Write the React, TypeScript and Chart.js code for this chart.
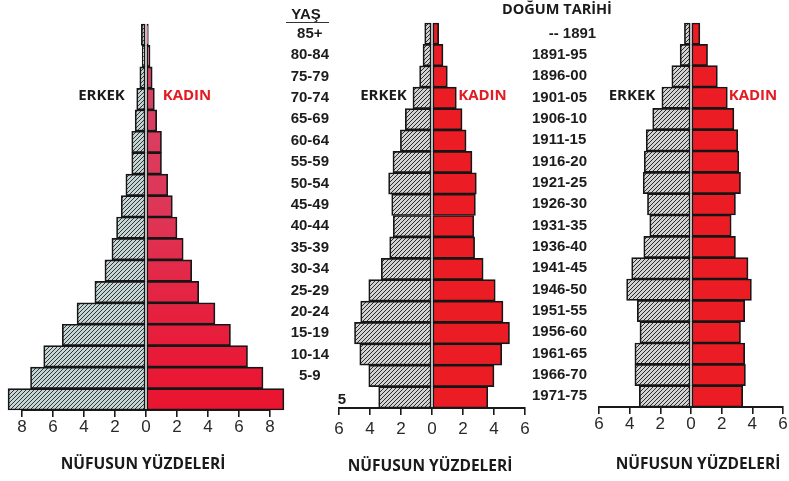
import React, { useEffect, useRef } from 'react';
import { Chart, registerables } from 'chart.js';

Chart.register(...registerables);

// ---------- DATA ----------
const ageGroups = ['85+', '80-84', '75-79', '70-74', '65-69', '60-64', '55-59', '50-54', '45-49', '40-44', '35-39', '30-34', '25-29', '20-24', '15-19', '10-14', '5-9', '0-4'];
const ageTickLabels = ['85+', '80-84', '75-79', '70-74', '65-69', '60-64', '55-59', '50-54', '45-49', '40-44', '35-39', '30-34', '25-29', '20-24', '15-19', '10-14', '5-9', ''];
const birthTickLabels = ['    -- 1891', '1891-95', '1896-00', '1901-05', '1906-10', '1911-15', '1916-20', '1921-25', '1926-30', '1931-35', '1936-40', '1941-45', '1946-50', '1951-55', '1956-60', '1961-65', '1966-70', '1971-75'];

// Pyramid 1 (percent of population)
const p1Male = [0.3, 0.25, 0.4, 0.6, 0.7, 0.92, 0.92, 1.3, 1.6, 1.9, 2.2, 2.65, 3.3, 4.45, 5.4, 6.6, 7.45, 8.9];
const p1Female = [0.15, 0.26, 0.4, 0.54, 0.69, 1.0, 1.0, 1.4, 1.7, 2.0, 2.4, 2.95, 3.4, 4.45, 5.45, 6.55, 7.55, 8.9];
// Pyramid 2
const p2Male = [0.47, 0.58, 0.8, 1.23, 1.72, 2.04, 2.52, 2.8, 2.6, 2.5, 2.73, 3.27, 4.08, 4.6, 5.0, 4.66, 4.08, 3.44];
const p2Female = [0.43, 0.71, 0.99, 1.57, 1.94, 2.2, 2.58, 2.86, 2.8, 2.7, 2.75, 3.3, 4.08, 4.58, 5.0, 4.5, 4.0, 3.6];
// Pyramid 3
const p3Male = [0.43, 0.71, 1.25, 1.9, 2.5, 2.92, 3.05, 3.12, 2.84, 2.69, 3.08, 3.87, 4.2, 3.5, 3.33, 3.66, 3.66, 3.37];
const p3Female = [0.58, 1.08, 1.72, 2.37, 2.8, 3.05, 3.12, 3.23, 2.9, 2.62, 2.9, 3.72, 3.94, 3.5, 3.23, 3.5, 3.55, 3.37];

const p1TickValues = [-8, -6, -4, -2, 0, 2, 4, 6, 8];
const p23TickValues = [-6, -4, -2, 0, 2, 4, 6];

const xTitle = 'NÜFUSUN YÜZDELERİ';

// ---------- HELPERS ----------
function makeHatch(bg: string, line: string) {
  const s = 4;
  const c = document.createElement('canvas');
  c.width = s;
  c.height = s;
  const g = c.getContext('2d')!;
  g.fillStyle = bg;
  g.fillRect(0, 0, s, s);
  g.strokeStyle = line;
  g.lineWidth = 1;
  g.beginPath();
  g.moveTo(-1, s + 1);
  g.lineTo(s + 1, -1);
  g.moveTo(-1, 1);
  g.lineTo(1, -1);
  g.moveTo(s - 1, s + 1);
  g.lineTo(s + 1, s - 1);
  g.stroke();
  return g.createPattern(c, 'repeat');
}

type PyrProps = {
  left: number;
  width: number;
  padLeft: number;
  padRight: number;
  top: number;
  bottom: number;
  yMode: 'none' | 'age' | 'birth';
  yWidth: number;
  male: number[];
  female: number[];
  femaleColor: string | 'gradient';
  hatchBg: string;
  hatchLine: string;
  tickValues: number[];
  min: number;
  max: number;
  tickPad: number;
};

function Pyramid(p: PyrProps) {
  const ref = useRef<HTMLCanvasElement | null>(null);
  useEffect(() => {
    if (!ref.current) return;
    const hatch = makeHatch(p.hatchBg, p.hatchLine);
    const femaleBg =
      p.femaleColor === 'gradient'
        ? (ctx: any) => {
            const chart = ctx.chart;
            const area = chart.chartArea;
            if (!area) return '#e3213f';
            const g = chart.ctx.createLinearGradient(0, area.top, 0, area.bottom);
            g.addColorStop(0, '#d5456b');
            g.addColorStop(0.5, '#df3556');
            g.addColorStop(0.75, '#e6203f');
            g.addColorStop(1, '#ea1430');
            return g;
          }
        : p.femaleColor;
    const tickLabels = p.yMode === 'age' ? ageTickLabels : birthTickLabels;
    const chart = new Chart(ref.current, {
      type: 'bar',
      data: {
        labels: ageGroups,
        datasets: [
          {
            label: 'ERKEK',
            data: p.male.map((v) => -v),
            backgroundColor: hatch as any,
            borderColor: '#161616',
            borderWidth: 1.7,
            borderSkipped: false,
            barPercentage: 1,
            categoryPercentage: 1,
            clip: false as any,
          },
          {
            label: 'KADIN',
            data: p.female,
            backgroundColor: femaleBg as any,
            borderColor: '#161616',
            borderWidth: 1.7,
            borderSkipped: false,
            barPercentage: 1,
            categoryPercentage: 1,
            clip: false as any,
          },
        ],
      },
      options: {
        indexAxis: 'y',
        animation: false,
        responsive: true,
        maintainAspectRatio: false,
        events: [],
        layout: { padding: { left: p.padLeft, right: p.padRight, top: p.top, bottom: 0 } },
        plugins: { legend: { display: false }, tooltip: { enabled: false } },
        scales: {
          x: {
            type: 'linear',
            stacked: true,
            min: p.min,
            max: p.max,
            afterBuildTicks: (s: any) => {
              s.ticks = p.tickValues.map((v) => ({ value: v }));
            },
            afterFit: (s: any) => {
              s.height = 481 - p.bottom;
            },
            ticks: {
              callback: (v: any) => String(Math.abs(Number(v))),
              font: { family: "'Liberation Sans', Arial, sans-serif", size: 17 },
              color: '#2a2a2a',
              padding: p.tickPad,
              maxRotation: 0,
              autoSkip: false,
            },
            grid: { drawOnChartArea: false, drawTicks: true, tickLength: 7, color: '#1a1a1a', lineWidth: 1.6 },
            border: { display: true, color: '#1a1a1a', width: 2 },
          },
          y: {
            type: 'category',
            stacked: true,
            display: p.yMode !== 'none',
            afterFit: (s: any) => {
              s.width = p.yWidth;
            },
            ticks: {
              autoSkip: false,
              callback: (_v: any, i: number) => tickLabels[i],
              crossAlign: p.yMode === 'age' ? 'center' : 'far',
              padding: p.yMode === 'age' ? 10 : 0,
              font: { family: "'Liberation Sans', Arial, sans-serif", size: 15, weight: 'bold' },
              color: '#1c1c1c',
            },
            grid: { display: false, drawTicks: false },
            border: { display: false },
          },
        },
      },
    } as any);
    return () => chart.destroy();
  }, []);
  return (
    <div style={{ position: 'absolute', left: p.left, top: 0, width: p.width, height: 481 }}>
      <canvas ref={ref} />
    </div>
  );
}

const hum = "'Open Sans', 'Noto Sans', sans-serif";

function Label(props: { x: number; y: number; text: string; color?: string; size?: number; family?: string; weight?: number }) {
  return (
    <div
      style={{
        position: 'absolute',
        left: props.x,
        top: props.y,
        transform: 'translate(-50%, -50%)',
        whiteSpace: 'nowrap',
        fontFamily: props.family || hum,
        fontWeight: props.weight || 700,
        fontSize: props.size || 15,
        color: props.color || '#1a1a1a',
        lineHeight: 1,
      }}
    >
      {props.text}
    </div>
  );
}

export default function App() {
  const red = '#e31b23';
  return (
    <div style={{ position: 'absolute', left: 0, top: 0, width: 789, height: 481, overflow: 'hidden', background: '#fff' }}>
      <Pyramid
        left={0}
        width={300}
        padLeft={22}
        padRight={30}
        top={24}
        bottom={410}
        yMode="none"
        yWidth={0}
        male={p1Male}
        female={p1Female}
        femaleColor="gradient"
        hatchBg="#c9d3d2"
        hatchLine="#243b3b"
        tickValues={p1TickValues}
        min={-8}
        max={8}
        tickPad={0}
      />
      <Pyramid
        left={280}
        width={260}
        padLeft={0}
        padRight={15}
        top={23}
        bottom={408}
        yMode="age"
        yWidth={59}
        male={p2Male}
        female={p2Female}
        femaleColor="#ec1c24"
        hatchBg="#d2d2d2"
        hatchLine="#2a2a2a"
        tickValues={p23TickValues}
        min={-6}
        max={6}
        tickPad={4}
      />
      <Pyramid
        left={520}
        width={290}
        padLeft={12}
        padRight={27}
        top={23}
        bottom={407}
        yMode="birth"
        yWidth={67}
        male={p3Male}
        female={p3Female}
        femaleColor="#ec1c24"
        hatchBg="#d2d2d2"
        hatchLine="#2a2a2a"
        tickValues={p23TickValues}
        min={-6}
        max={6}
        tickPad={0}
      />

      <Label x={101.5} y={94} text="ERKEK" />
      <Label x={187} y={94} text="KADIN" color={red} />
      <Label x={383.5} y={94} text="ERKEK" />
      <Label x={482.5} y={94} text="KADIN" color={red} />
      <Label x={632} y={93.5} text="ERKEK" />
      <Label x={753} y={93.5} text="KADIN" color={red} />

      <Label x={143} y={464} text={xTitle} size={15.5} />
      <Label x={430} y={466} text={xTitle} size={15.5} />
      <Label x={698} y={464} text={xTitle} size={15.5} />

      <Label x={306} y={13} text="YAŞ" family="'Liberation Sans', Arial, sans-serif" size={15} />
      <div style={{ position: 'absolute', left: 286, top: 22, width: 43, height: 0, borderTop: '1.5px solid #333' }} />
      <Label x={557} y={9} text="DOĞUM TARİHİ" size={14.5} />
      <Label x={342} y={398} text="5" family="'Liberation Sans', Arial, sans-serif" size={15} />
    </div>
  );
}
